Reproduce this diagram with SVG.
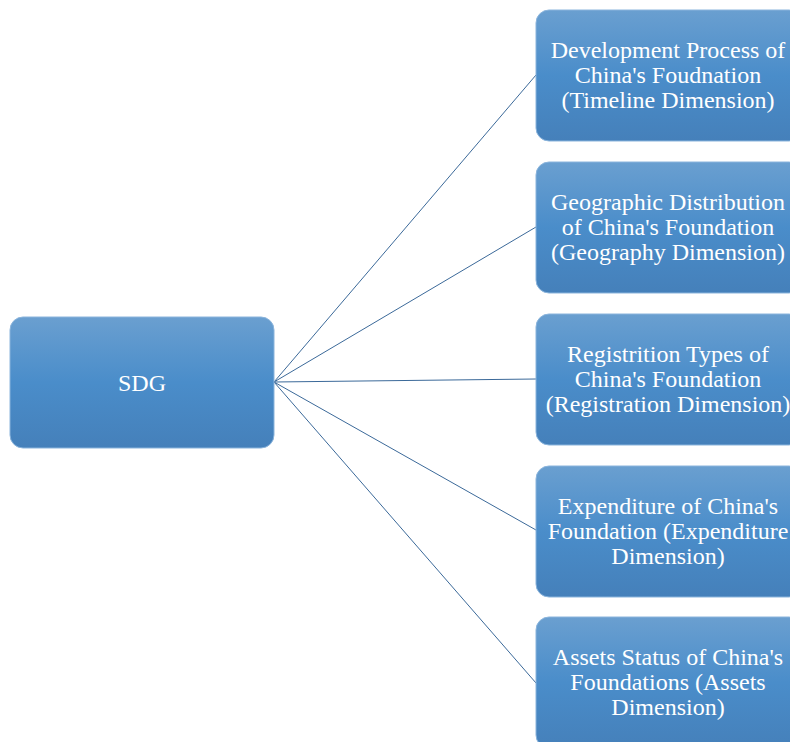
<svg xmlns="http://www.w3.org/2000/svg" width="790" height="742" viewBox="0 0 790 742">
<defs>
<linearGradient id="g" x1="0" y1="0" x2="0" y2="1">
<stop offset="0" stop-color="#6a9fd0"/>
<stop offset="0.5" stop-color="#4a8dca"/>
<stop offset="1" stop-color="#4580ba"/>
</linearGradient>
<style>
.box{fill:url(#g);stroke:#8ab4dc;stroke-width:1}
.t{font-family:"Liberation Serif","Times New Roman",serif;font-size:24px;fill:#ffffff;text-anchor:middle}
.c{stroke:#3b6999;stroke-width:1;fill:none}
</style>
</defs>
<rect width="790" height="742" fill="#ffffff"/>
<g id="connectors">
<line class="c" x1="274" y1="382" x2="536" y2="75"/>
<line class="c" x1="274" y1="382" x2="536" y2="227"/>
<line class="c" x1="274" y1="382" x2="536" y2="379"/>
<line class="c" x1="274" y1="382" x2="536" y2="530"/>
<line class="c" x1="274" y1="382" x2="536" y2="683"/>
</g>
<g id="sdg">
<rect class="box" x="10" y="317" width="264" height="131" rx="13"/>
<text class="t" x="142" y="391">SDG</text>
</g>
<g id="n1">
<rect class="box" x="536" y="10" width="266" height="131" rx="13"/>
<text class="t" x="668" y="58">Development Process of</text>
<text class="t" x="668" y="83">China's Foudnation</text>
<text class="t" x="668" y="108">(Timeline Dimension)</text>
</g>
<g id="n2">
<rect class="box" x="536" y="162" width="266" height="131" rx="13"/>
<text class="t" x="668" y="210">Geographic Distribution</text>
<text class="t" x="668" y="235">of China's Foundation</text>
<text class="t" x="668" y="260">(Geography Dimension)</text>
</g>
<g id="n3">
<rect class="box" x="536" y="314" width="266" height="131" rx="13"/>
<text class="t" x="668" y="362">Registrition Types of</text>
<text class="t" x="668" y="387">China's Foundation</text>
<text class="t" x="668" y="412">(Registration Dimension)</text>
</g>
<g id="n4">
<rect class="box" x="536" y="466" width="266" height="131" rx="13"/>
<text class="t" x="668" y="514">Expenditure of China's</text>
<text class="t" x="668" y="539">Foundation (Expenditure</text>
<text class="t" x="668" y="564">Dimension)</text>
</g>
<g id="n5">
<rect class="box" x="536" y="617" width="266" height="131" rx="13"/>
<text class="t" x="668" y="665">Assets Status of China's</text>
<text class="t" x="668" y="690">Foundations (Assets</text>
<text class="t" x="668" y="715">Dimension)</text>
</g>
</svg>
